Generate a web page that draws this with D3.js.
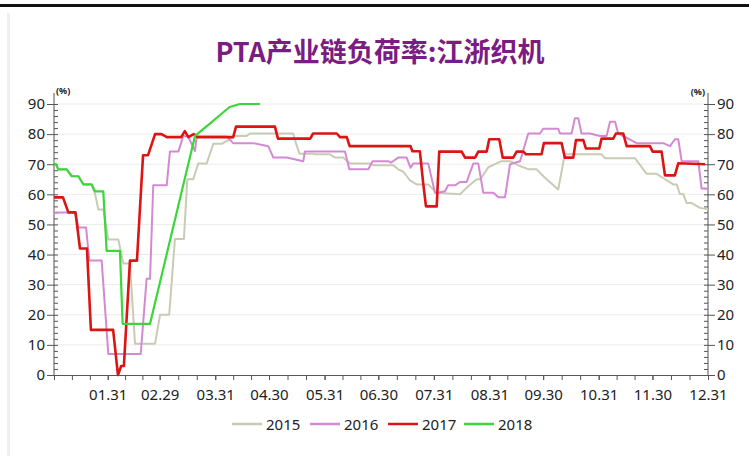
<!DOCTYPE html>
<html>
<head>
<meta charset="utf-8">
<script src="https://cdn.jsdelivr.net/npm/d3@7"></script>
<style>
  html, body { margin: 0; padding: 0; background: #fff; }
  svg { display: block; }
</style>
</head>
<body>
<svg id="chart"></svg>
<script>
// day-of-year (leap year, Jan 1 = 0) and load rate in %
const s2015 = [[0,70],[1.1,70],[2.4,68.3],[7.1,68.3],[9.9,66],[13.6,66],[16.4,63.3],[21,63.3],[23,60],[24.7,55],[27.5,55],
  [30.3,45],[35.9,45],[38.7,37],[42.4,37],[45.2,10.4],[56.4,10.4],[59.2,20],[64.3,20],[67.5,45.2],[72.5,45.2],[74.4,65],
  [77.7,65],[80.5,70.2],[85.2,70.2],[88.9,76.8],[93.6,76.8],[96.4,77.7],[101,79.4],[107.5,79.4],[109.4,80.2],[133.5,80.2],
  [135,77],[137,73.5],[144.7,73.5],[145.6,73.3],[154,73.3],[156.8,72.2],[161.4,72.2],[165.2,70.2],[176.3,70.2],[178.2,69.7],
  [189.3,69.7],[192.1,68.3],[195,67.5],[198.7,64.6],[202.4,63.3],[208.9,63.3],[213.5,60.5],[226.6,60],[231.2,62.7],
  [235.9,65],[238,65],[242.4,69],[249.8,71],[254.5,71],[260.1,69.4],[265,68.3],[269.4,68.3],[273.1,66],[281.4,61.6],
  [285.1,73.3],[305.6,73.3],[307.5,72],[324.2,72],[330.8,66.8],[336.3,66.8],[341,65],[345.6,63.3],[347.5,63.3],
  [349.3,60.1],[351.2,60.1],[353.1,57.1],[355.9,57.1],[360.5,55.5],[365,55]];

const s2016 = [[0,54],[11.7,54],[13.6,49],[17.9,49],[19.7,38],[26.6,38],[30.3,7],[48.4,7],[51.7,32],[53.6,32],[55.4,63],
  [62.9,63],[64.7,74.2],[69.4,74.2],[72.2,79.5],[75,79],[78.7,74.4],[79.6,79.2],[96.4,79.2],[100,77],[111.2,77],[119.6,76],
  [122.4,72.2],[129.8,72.2],[139.1,71],[140,74.2],[162.4,74.2],[164.8,68.3],[175.4,68.3],[177.8,71],[186.5,71],[188,70.5],
  [192.1,72.2],[196.8,72.2],[199,68.8],[200.5,70.2],[208.9,70.2],[212.6,60.5],[214.5,60.5],[218.2,61],[220,63],[223.8,63],
  [226.6,64.1],[230.3,64.1],[234,70.2],[236.8,70.2],[239.6,60.5],[245.2,60.5],[248,59],[251.7,59],[254.5,70],[260.1,71],
  [264.7,80.2],[271.2,80.2],[273.1,81.8],[281.4,81.8],[282.4,80.2],[288.9,80.2],[290.7,85.3],[292.6,85.3],[294.4,80.2],
  [299.1,80.2],[304.7,79.4],[308.4,79.4],[310.3,84.1],[313.1,84.1],[314.9,80.2],[325.2,77],[340.1,77],[343.8,76],
  [346.5,78.3],[348.4,78.3],[350.3,71],[359.6,71],[361.4,61.9],[365,61.9]];

const s2017 = [[0,59],[5,59],[8,54],[12,54],[14.5,42],[18.4,42],[20.6,15],[33,15],[35.7,0],[37.5,3],[39,3],[42.4,38],
  [46.3,38],[49.7,73],[52.5,73],[56.4,80],[60,80],[63,79],[71,79],[73,81],[75,79],[78,80],[80,79],[100,79],[101.6,82.5],
  [123.3,82.5],[125,78.5],[143,78.5],[144.6,80.2],[157.8,80.2],[159.6,79],[163.4,79],[165,76],[199,76],[200,74.3],
  [204.2,74.3],[206,64],[207.6,56],[213.6,56],[215,74.2],[227.5,74.2],[229.4,72.2],[235,72.2],[236.8,74.2],[241.5,74.2],
  [242.9,78.3],[248.5,78.3],[250.4,72.2],[256.3,72.2],[258.2,74.2],[261.9,74.2],[263.4,73.3],[272.1,73.3],[273.4,77],
  [283.3,77],[285.1,72.2],[289.8,72.2],[291.3,78],[295.4,78],[296.9,75.2],[304.3,75.2],[305.6,78.5],[312.1,78.5],
  [313.6,80.2],[317.7,80.2],[319.6,76],[332.6,76],[334.1,74.2],[339.1,74.2],[341,66.3],[346.5,66.3],[348.4,70.3],[363.3,70]];

const s2018 = [[0,70],[1.1,70],[2.4,68.3],[7.1,68.3],[9.9,66],[13.6,66],[16.4,63.3],[21,63.3],[22.9,61],[27.5,61],
  [29.4,41.2],[36.8,41.2],[38.3,17],[53.6,17],[78.7,79.4],[87,83.5],[95,87.5],[98,89],[103.8,90],[115,90]];

const years = ["2015", "2016", "2017", "2018"];
const monthEnds = [30, 59, 90, 120, 151, 181, 212, 243, 273, 304, 334, 365];
const monthLabels = ["01.31","02.29","03.31","04.30","05.31","06.30","07.31","08.31","09.30","10.31","11.30","12.31"];

const W = 749, H = 456;
const colors = {"2015": "#c9cbb5", "2016": "#d48ad2", "2017": "#dd1414", "2018": "#3ad63a"};
const widths = {"2015": 2, "2016": 2, "2017": 2.6, "2018": 2.2};
const series = {"2015": s2015, "2016": s2016, "2017": s2017, "2018": s2018};

const font = "'Noto Sans', 'DejaVu Sans', sans-serif";

const svg = d3.select("#chart").attr("width", W).attr("height", H);

// frame
svg.append("rect").attr("x", 0).attr("y", 4).attr("width", W).attr("height", 3).attr("fill", "#111");
svg.append("rect").attr("x", 7).attr("y", 13).attr("width", 3).attr("height", H - 13).attr("fill", "#f0f0f0");

const x = d3.scaleLinear().domain([0, 365]).range([54, 708]);
const y = d3.scaleLinear().domain([0, 90]).range([375, 104]);

// title
svg.append("text")
  .attr("x", 380).attr("y", 62)
  .attr("text-anchor", "middle")
  .attr("fill", "#7b1c82")
  .style("font", "bold 27px 'Noto Sans CJK SC', sans-serif")
  .text("PTA产业链负荷率:江浙织机");

// grid
svg.append("g")
  .selectAll("line")
  .data(d3.range(10, 91, 10))
  .join("line")
  .attr("x1", x(0)).attr("x2", x(365))
  .attr("y1", d => y(d)).attr("y2", d => y(d))
  .attr("stroke", "#ececec");

// minor x ticks: three per month
const xTicks = [];
let prev = 0;
monthEnds.forEach(m => {
  xTicks.push(prev, prev + (m - prev) / 3, prev + 2 * (m - prev) / 3);
  prev = m;
});
xTicks.push(365);

const styleAxis = g => {
  g.select(".domain").attr("stroke", "#555");
  g.selectAll(".tick line").attr("stroke", "#555");
  g.selectAll("text").attr("fill", "#222").style("font-family", font);
};

svg.append("g")
  .attr("transform", `translate(0,${y(0)})`)
  .call(d3.axisBottom(x).tickValues(xTicks).tickSize(5).tickFormat("").tickSizeOuter(0))
  .call(styleAxis);

svg.append("g")
  .attr("transform", `translate(0,${y(0)})`)
  .call(d3.axisBottom(x).tickValues(monthEnds).tickSize(5).tickPadding(9)
    .tickFormat((d, i) => monthLabels[i]).tickSizeOuter(0))
  .call(styleAxis)
  .call(g => g.select(".domain").remove())
  .selectAll("text").style("font-size", "15px");

// left axis
const yMajor = d3.range(0, 91, 10);
const yMinor = d3.range(0, 91, 2);

svg.append("g")
  .attr("transform", `translate(${x(0)},0)`)
  .call(d3.axisLeft(y).tickValues(yMajor).tickSize(7).tickPadding(2).tickSizeOuter(0))
  .call(styleAxis)
  .call(g => g.select(".domain").attr("d", `M0,93V${y(0)}`))
  .selectAll("text").style("font-size", "15px");
svg.append("g")
  .attr("transform", `translate(${x(0)},0)`)
  .call(d3.axisRight(y).tickValues(yMinor).tickSize(4).tickFormat(""))
  .call(styleAxis)
  .call(g => g.select(".domain").remove());

// right axis
svg.append("g")
  .attr("transform", `translate(${x(365)},0)`)
  .call(d3.axisRight(y).tickValues(yMajor).tickSize(7).tickPadding(2).tickSizeOuter(0))
  .call(styleAxis)
  .call(g => g.select(".domain").attr("d", `M0,93V${y(0)}`))
  .selectAll("text").style("font-size", "15px");
svg.append("g")
  .attr("transform", `translate(${x(365)},0)`)
  .call(d3.axisLeft(y).tickValues(yMinor).tickSize(4).tickFormat(""))
  .call(styleAxis)
  .call(g => g.select(".domain").remove());

// unit labels
svg.append("text").attr("x", 56).attr("y", 94)
  .style("font", "bold 9px " + font).attr("fill", "#222").text("(%)");
svg.append("text").attr("x", 705).attr("y", 95).attr("text-anchor", "end")
  .style("font", "bold 9px " + font).attr("fill", "#222").text("(%)");

// lines
const line = d3.line().x(d => x(d[0])).y(d => y(d[1]));
svg.append("g")
  .selectAll("path")
  .data(years)
  .join("path")
  .attr("d", k => line(series[k]))
  .attr("fill", "none")
  .attr("stroke", k => colors[k])
  .attr("stroke-width", k => widths[k])
  .attr("stroke-linejoin", "round");

// legend
const legendX = [232, 310, 388, 464];
const lg = svg.append("g")
  .selectAll("g")
  .data(years)
  .join("g")
  .attr("transform", (k, i) => `translate(${legendX[i]},424)`);
lg.append("line")
  .attr("x1", 0).attr("x2", 30)
  .attr("stroke", k => colors[k])
  .attr("stroke-width", 2.5);
lg.append("text")
  .attr("x", 34).attr("y", 5.5)
  .attr("fill", "#222")
  .style("font", "15px " + font)
  .text(k => k);
</script>
</body>
</html>
